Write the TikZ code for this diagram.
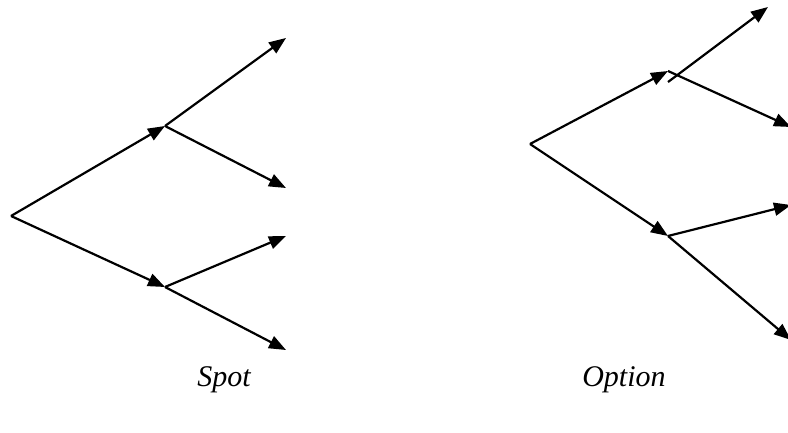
\documentclass[tikz,border=0pt]{standalone}
\usepackage{fontspec}
\setmainfont{Liberation Serif}
\usetikzlibrary{arrows.meta}
\tikzset{
  branch/.style={line width=2.2pt, -{Triangle[length=17pt,width=13pt]}},
  treelabel/.style={font=\fontsize{30}{36}\selectfont\itshape}
}
\begin{document}
\begin{tikzpicture}[x=1pt,y=-1pt]
            \useasboundingbox (0,0) rectangle (788,433);
            %Spot tree
            \coordinate (s0) at (11,216);
            \coordinate (su) at (165,126);
            \coordinate (sd) at (165,287);
            \coordinate (suu) at (286,38);
            \coordinate (sud) at (286,188);
            \coordinate (sdu) at (286,236);
            \coordinate (sdd) at (286,350);
            \draw[branch] (s0)--(su);
            \draw[branch] (s0)--(sd);
            \draw[branch] (su)--(suu);
            \draw[branch] (su)--(sud);
            \draw[branch] (sd)--(sdu);
            \draw[branch] (sd)--(sdd);
            \node[treelabel] (spot) at (224,380) {Spot};
            %Option tree
            \coordinate (o0) at (530,144);
            \coordinate (ou) at (668,71);
            \coordinate (ouo) at (668,82);
            \coordinate (od) at (668,236);
            \coordinate (ouu) at (768,7);
            \coordinate (oud) at (791,127);
            \coordinate (odu) at (791,205);
            \coordinate (odd) at (791,340);
            \draw[branch] (o0)--(ou);
            \draw[branch] (o0)--(od);
            \draw[branch] (ouo)--(ouu);
            \draw[branch] (ou)--(oud);
            \draw[branch] (od)--(odu);
            \draw[branch] (od)--(odd);
            \node[treelabel] (option) at (624,380) {Option};
\end{tikzpicture}
\end{document}
